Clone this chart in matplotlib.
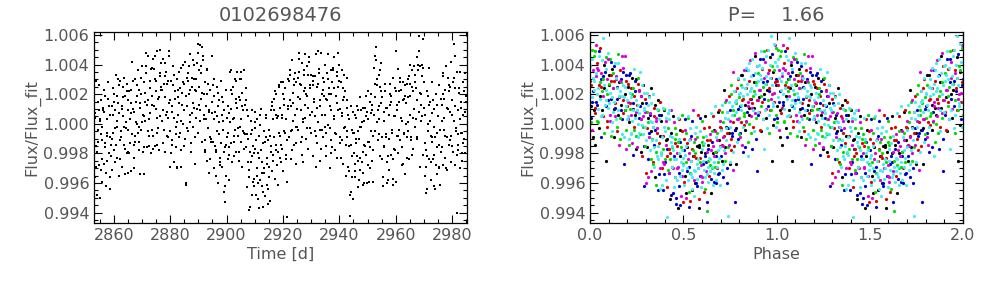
import numpy as np
import matplotlib
matplotlib.use("Agg")
import matplotlib.pyplot as plt
from matplotlib.ticker import MultipleLocator, FormatStrFormatter

# ---- light curve (left panel): time in days, flux offset in parts per thousand
time_d = [
    2853.1, 2853.3, 2853.6, 2853.8, 2854.1, 2854.4, 2854.6, 2854.9, 2855.1, 2855.4, 2855.6, 2855.9,
    2856.0, 2856.2, 2856.5, 2856.7, 2857.0, 2857.2, 2857.5, 2857.7, 2858.0, 2858.3, 2858.5, 2858.8,
    2859.1, 2859.4, 2859.6, 2859.9, 2860.1, 2860.3, 2860.6, 2860.8, 2861.1, 2861.3, 2861.6, 2861.8,
    2862.1, 2862.3, 2862.6, 2862.8, 2863.1, 2863.4, 2863.6, 2863.9, 2864.1, 2864.4, 2864.6, 2864.9,
    2865.0, 2865.2, 2865.5, 2865.7, 2866.0, 2866.2, 2866.5, 2866.7, 2867.0, 2867.3, 2867.5, 2867.8,
    2868.1, 2868.4, 2868.6, 2868.9, 2869.1, 2869.3, 2869.6, 2869.8, 2870.1, 2870.3, 2870.6, 2870.8,
    2871.1, 2871.3, 2871.6, 2871.8, 2872.1, 2872.4, 2872.6, 2872.9, 2873.1, 2873.4, 2873.6, 2873.9,
    2874.0, 2874.2, 2874.5, 2874.7, 2875.0, 2875.2, 2875.5, 2875.7, 2876.0, 2876.3, 2876.5, 2876.8,
    2877.1, 2877.4, 2877.6, 2877.9, 2878.1, 2878.3, 2878.6, 2878.8, 2879.1, 2879.3, 2879.6, 2879.8,
    2880.1, 2880.3, 2880.6, 2880.8, 2881.1, 2881.4, 2881.6, 2881.9, 2882.1, 2882.4, 2882.6, 2882.9,
    2883.0, 2883.2, 2883.5, 2883.7, 2884.0, 2884.2, 2884.5, 2884.7, 2885.0, 2885.3, 2885.5, 2885.8,
    2886.1, 2886.4, 2886.6, 2886.9, 2887.1, 2887.3, 2887.6, 2887.8, 2888.1, 2888.3, 2888.6, 2888.8,
    2889.1, 2889.3, 2889.6, 2889.8, 2890.1, 2890.4, 2890.6, 2890.9, 2891.1, 2891.4, 2891.6, 2891.9,
    2892.0, 2892.2, 2892.5, 2892.7, 2893.0, 2893.2, 2893.5, 2893.7, 2894.0, 2894.3, 2894.5, 2894.8,
    2895.1, 2895.4, 2895.6, 2895.9, 2896.1, 2896.3, 2896.6, 2896.8, 2897.1, 2897.3, 2897.6, 2897.8,
    2898.1, 2898.3, 2898.6, 2898.8, 2899.1, 2899.4, 2899.6, 2899.9, 2900.1, 2900.4, 2900.6, 2900.9,
    2901.0, 2901.2, 2901.5, 2901.7, 2902.0, 2902.2, 2902.5, 2902.7, 2903.0, 2903.3, 2903.5, 2903.8,
    2904.1, 2904.4, 2904.6, 2904.9, 2905.1, 2905.3, 2905.6, 2905.8, 2906.1, 2906.3, 2906.6, 2906.8,
    2907.1, 2907.3, 2907.6, 2907.8, 2908.1, 2908.4, 2908.6, 2908.9, 2909.1, 2909.4, 2909.6, 2909.9,
    2910.0, 2910.2, 2910.5, 2910.7, 2911.0, 2911.2, 2911.5, 2911.7, 2912.0, 2912.3, 2912.5, 2912.8,
    2913.1, 2913.4, 2913.6, 2913.9, 2914.1, 2914.3, 2914.6, 2914.8, 2915.1, 2915.3, 2915.6, 2915.8,
    2916.1, 2916.3, 2916.6, 2916.8, 2917.1, 2917.4, 2917.6, 2917.9, 2918.1, 2918.4, 2918.6, 2918.9,
    2919.0, 2919.2, 2919.5, 2919.7, 2920.0, 2920.2, 2920.5, 2920.7, 2921.0, 2921.3, 2921.5, 2921.8,
    2922.1, 2922.4, 2922.6, 2922.9, 2923.1, 2923.3, 2923.6, 2923.8, 2924.1, 2924.3, 2924.6, 2924.8,
    2925.1, 2925.3, 2925.6, 2925.8, 2926.1, 2926.4, 2926.6, 2926.9, 2927.1, 2927.4, 2927.6, 2927.9,
    2928.0, 2928.2, 2928.5, 2928.7, 2929.0, 2929.2, 2929.5, 2929.7, 2930.0, 2930.3, 2930.5, 2930.8,
    2931.1, 2931.4, 2931.6, 2931.9, 2932.1, 2932.3, 2932.6, 2932.8, 2933.1, 2933.3, 2933.6, 2933.8,
    2934.1, 2934.3, 2934.6, 2934.8, 2935.1, 2935.4, 2935.6, 2935.9, 2936.1, 2936.4, 2936.6, 2936.9,
    2937.0, 2937.2, 2937.5, 2937.7, 2938.0, 2938.2, 2938.5, 2938.7, 2939.0, 2939.3, 2939.5, 2939.8,
    2940.1, 2940.4, 2940.6, 2940.9, 2941.1, 2941.3, 2941.6, 2941.8, 2942.1, 2942.3, 2942.6, 2942.8,
    2943.1, 2943.3, 2943.6, 2943.8, 2944.1, 2944.4, 2944.6, 2944.9, 2945.1, 2945.4, 2945.6, 2945.9,
    2946.0, 2946.2, 2946.5, 2946.7, 2947.0, 2947.2, 2947.5, 2947.7, 2948.0, 2948.3, 2948.5, 2948.8,
    2949.1, 2949.4, 2949.6, 2949.9, 2950.1, 2950.3, 2950.6, 2950.8, 2951.1, 2951.3, 2951.6, 2951.8,
    2952.1, 2952.3, 2952.6, 2952.8, 2953.1, 2953.4, 2953.6, 2953.9, 2954.1, 2954.4, 2954.6, 2954.9,
    2955.0, 2955.2, 2955.5, 2955.7, 2956.0, 2956.2, 2956.5, 2956.7, 2957.0, 2957.3, 2957.5, 2957.8,
    2958.1, 2958.4, 2958.6, 2958.9, 2959.1, 2959.3, 2959.6, 2959.8, 2960.1, 2960.3, 2960.6, 2960.8,
    2961.1, 2961.3, 2961.6, 2961.8, 2962.1, 2962.4, 2962.6, 2962.9, 2963.1, 2963.4, 2963.6, 2963.9,
    2964.0, 2964.2, 2964.5, 2964.7, 2965.0, 2965.2, 2965.5, 2965.7, 2966.0, 2966.3, 2966.5, 2966.8,
    2967.1, 2967.4, 2967.6, 2967.9, 2968.1, 2968.3, 2968.6, 2968.8, 2969.1, 2969.3, 2969.6, 2969.8,
    2970.1, 2970.3, 2970.6, 2970.8, 2971.1, 2971.4, 2971.6, 2971.9, 2972.1, 2972.4, 2972.6, 2972.9,
    2973.0, 2973.2, 2973.5, 2973.7, 2974.0, 2974.2, 2974.5, 2974.7, 2975.0, 2975.3, 2975.5, 2975.8,
    2976.1, 2976.4, 2976.6, 2976.9, 2977.1, 2977.3, 2977.6, 2977.8, 2978.1, 2978.3, 2978.6, 2978.8,
    2979.1, 2979.3, 2979.6, 2979.8, 2980.1, 2980.4, 2980.6, 2980.9, 2981.1, 2981.4, 2981.6, 2981.9,
    2982.0, 2982.2, 2982.5, 2982.7, 2983.0, 2983.2, 2983.5, 2983.7, 2984.0, 2984.3, 2984.5, 2984.8,
    # in-between exposures
    2853.2, 2853.45, 2853.7, 2854.0, 2854.25, 2854.5, 2854.75, 2855.0, 2855.2, 2855.45, 2855.7, 2855.95,
    2856.25, 2856.5, 2856.8, 2856.95, 2857.2, 2857.45, 2857.65, 2857.95, 2858.25, 2858.55, 2858.75, 2858.9,
    2859.2, 2859.45, 2859.7, 2860.0, 2860.25, 2860.5, 2860.75, 2861.0, 2861.2, 2861.45, 2861.7, 2861.95,
    2862.25, 2862.5, 2862.8, 2862.95, 2863.2, 2863.45, 2863.65, 2863.95, 2864.25, 2864.55, 2864.75, 2864.9,
    2865.2, 2865.45, 2865.7, 2866.0, 2866.25, 2866.5, 2866.75, 2867.0, 2867.2, 2867.45, 2867.7, 2867.95,
    2868.25, 2868.5, 2868.8, 2868.95, 2869.2, 2869.45, 2869.65, 2869.95, 2870.25, 2870.55, 2870.75, 2870.9,
    2871.2, 2871.45, 2871.7, 2872.0, 2872.25, 2872.5, 2872.75, 2873.0, 2873.2, 2873.45, 2873.7, 2873.95,
    2874.25, 2874.5, 2874.8, 2874.95, 2875.2, 2875.45, 2875.65, 2875.95, 2876.25, 2876.55, 2876.75, 2876.9,
    2877.2, 2877.45, 2877.7, 2878.0, 2878.25, 2878.5, 2878.75, 2879.0, 2879.2, 2879.45, 2879.7, 2879.95,
    2880.25, 2880.5, 2880.8, 2880.95, 2881.2, 2881.45, 2881.65, 2881.95, 2882.25, 2882.55, 2882.75, 2882.9,
    2883.2, 2883.45, 2883.7, 2884.0, 2884.25, 2884.5, 2884.75, 2885.0, 2885.2, 2885.45, 2885.7, 2885.95,
    2886.25, 2886.5, 2886.8, 2886.95, 2887.2, 2887.45, 2887.65, 2887.95, 2888.25, 2888.55, 2888.75, 2888.9,
    2889.2, 2889.45, 2889.7, 2890.0, 2890.25, 2890.5, 2890.75, 2891.0, 2891.2, 2891.45, 2891.7, 2891.95,
    2892.25, 2892.5, 2892.8, 2892.95, 2893.2, 2893.45, 2893.65, 2893.95, 2894.25, 2894.55, 2894.75, 2894.9,
    2895.2, 2895.45, 2895.7, 2896.0, 2896.25, 2896.5, 2896.75, 2897.0, 2897.2, 2897.45, 2897.7, 2897.95,
    2898.25, 2898.5, 2898.8, 2898.95, 2899.2, 2899.45, 2899.65, 2899.95, 2900.25, 2900.55, 2900.75, 2900.9,
    2901.2, 2901.45, 2901.7, 2902.0, 2902.25, 2902.5, 2902.75, 2903.0, 2903.2, 2903.45, 2903.7, 2903.95,
    2904.25, 2904.5, 2904.8, 2904.95, 2905.2, 2905.45, 2905.65, 2905.95, 2906.25, 2906.55, 2906.75, 2906.9,
    2907.2, 2907.45, 2907.7, 2908.0, 2908.25, 2908.5, 2908.75, 2909.0, 2909.2, 2909.45, 2909.7, 2909.95,
    2910.25, 2910.5, 2910.8, 2910.95, 2911.2, 2911.45, 2911.65, 2911.95, 2912.25, 2912.55, 2912.75, 2912.9,
    2913.2, 2913.45, 2913.7, 2914.0, 2914.25, 2914.5, 2914.75, 2915.0, 2915.2, 2915.45, 2915.7, 2915.95,
    2916.25, 2916.5, 2916.8, 2916.95, 2917.2, 2917.45, 2917.65, 2917.95, 2918.25, 2918.55, 2918.75, 2918.9,
    2919.2, 2919.45, 2919.7, 2920.0, 2920.25, 2920.5, 2920.75, 2921.0, 2921.2, 2921.45, 2921.7, 2921.95,
    2922.25, 2922.5, 2922.8, 2922.95, 2923.2, 2923.45, 2923.65, 2923.95, 2924.25, 2924.55, 2924.75, 2924.9,
    2925.2, 2925.45, 2925.7, 2926.0, 2926.25, 2926.5, 2926.75, 2927.0, 2927.2, 2927.45, 2927.7, 2927.95,
    2928.25, 2928.5, 2928.8, 2928.95, 2929.2, 2929.45, 2929.65, 2929.95, 2930.25, 2930.55, 2930.75, 2930.9,
    2931.2, 2931.45, 2931.7, 2932.0, 2932.25, 2932.5, 2932.75, 2933.0, 2933.2, 2933.45, 2933.7, 2933.95,
    2934.25, 2934.5, 2934.8, 2934.95, 2935.2, 2935.45, 2935.65, 2935.95, 2936.25, 2936.55, 2936.75, 2936.9,
    2937.2, 2937.45, 2937.7, 2938.0, 2938.25, 2938.5, 2938.75, 2939.0, 2939.2, 2939.45, 2939.7, 2939.95,
    2940.25, 2940.5, 2940.8, 2940.95, 2941.2, 2941.45, 2941.65, 2941.95, 2942.25, 2942.55, 2942.75, 2942.9,
    2943.2, 2943.45, 2943.7, 2944.0, 2944.25, 2944.5, 2944.75, 2945.0, 2945.2, 2945.45, 2945.7, 2945.95,
    2946.25, 2946.5, 2946.8, 2946.95, 2947.2, 2947.45, 2947.65, 2947.95, 2948.25, 2948.55, 2948.75, 2948.9,
    2949.2, 2949.45, 2949.7, 2950.0, 2950.25, 2950.5, 2950.75, 2951.0, 2951.2, 2951.45, 2951.7, 2951.95,
    2952.25, 2952.5, 2952.8, 2952.95, 2953.2, 2953.45, 2953.65, 2953.95, 2954.25, 2954.55, 2954.75, 2954.9,
    2955.2, 2955.45, 2955.7, 2956.0, 2956.25, 2956.5, 2956.75, 2957.0, 2957.2, 2957.45, 2957.7, 2957.95,
    2958.25, 2958.5, 2958.8, 2958.95, 2959.2, 2959.45, 2959.65, 2959.95, 2960.25, 2960.55, 2960.75, 2960.9,
    2961.2, 2961.45, 2961.7, 2962.0, 2962.25, 2962.5, 2962.75, 2963.0, 2963.2, 2963.45, 2963.7, 2963.95,
    2964.25, 2964.5, 2964.8, 2964.95, 2965.2, 2965.45, 2965.65, 2965.95, 2966.25, 2966.55, 2966.75, 2966.9,
    2967.2, 2967.45, 2967.7, 2968.0, 2968.25, 2968.5, 2968.75, 2969.0, 2969.2, 2969.45, 2969.7, 2969.95,
    2970.25, 2970.5, 2970.8, 2970.95, 2971.2, 2971.45, 2971.65, 2971.95, 2972.25, 2972.55, 2972.75, 2972.9,
    2973.2, 2973.45, 2973.7, 2974.0, 2974.25, 2974.5, 2974.75, 2975.0, 2975.2, 2975.45, 2975.7, 2975.95,
    2976.25, 2976.5, 2976.8, 2976.95, 2977.2, 2977.45, 2977.65, 2977.95, 2978.25, 2978.55, 2978.75, 2978.9,
    2979.2, 2979.45, 2979.7, 2980.0, 2980.25, 2980.5, 2980.75, 2981.0, 2981.2, 2981.45, 2981.7, 2981.95,
    2982.25, 2982.5, 2982.8, 2982.95, 2983.2, 2983.45, 2983.65, 2983.95, 2984.25, 2984.55, 2984.75, 2984.9,
]
flux_ppt = [
    1.8, 0.4, -1.5, -2.9, -4.8, -1.2, 0.9, 2.6, 0.3, -0.7, -3.1, -2.4,
    -0.2, 1.1, 2.3, 0.8, -1.6, -3.3, -2.5, -0.6, 1.7, 1.2, -0.9, -4.4,
    -2.2, -1.0, 0.6, 2.4, 1.5, -0.3, -2.6, -1.4, 0.2, 1.9, 3.0, 0.7,
    -1.1, -2.4, -0.5, 1.2, 2.5, 1.8, -0.2, -1.7, -3.4, 0.1, 2.2, 0.9,
    1.6, -0.4, -2.0, -1.3, 0.7, 2.3, 4.2, 1.0, -1.4, -3.0, -0.8, 1.5,
    2.6, 1.9, -0.6, -1.8, -0.2, 1.4, 3.1, 2.0, 0.1, -1.9, -3.4, 0.5,
    2.1, 3.9, 4.8, 1.3, -0.5, -1.5, 0.3, 2.4, 3.7, 1.9, -0.4, -1.7,
    -0.8, 1.2, 3.0, 4.6, 2.2, 0.4, -1.4, -0.3, 1.8, 3.4, 5.0, 2.5,
    0.2, -1.3, 0.9, 2.7, 4.1, 3.2, 0.6, -0.8, 0.4, 2.9, 4.9, 1.6,
    -0.5, -2.0, -1.1, 0.8, 2.6, 3.3, 1.7, -0.2, -1.6, -2.9, 0.1, 2.3,
    3.5, 1.4, -0.6, -1.8, 0.2, 2.1, 4.0, 2.8, 0.9, -1.0, -4.1, -0.3,
    1.2, 2.9, 3.9, 2.3, 0.1, -1.3, 0.7, 2.5, 4.3, 3.0, 1.1, -0.9,
    0.4, 2.2, 4.1, 5.4, 3.6, 1.3, 0.2, 1.7, 3.9, 5.2, 4.6, 2.0,
    0.6, -1.1, -1.9, 0.3, 2.0, 3.6, 2.7, 0.8, -0.9, -2.4, -1.2, 0.7,
    2.6, 1.9, 0.3, -1.5, -3.5, -1.8, 0.5, 2.1, 1.2, -0.7, -2.3, -2.8,
    -1.3, 0.6, 1.5, 0.2, -1.9, -5.3, -4.2, -1.4, 0.4, 1.2, -0.6, -2.1,
    -1.6, 0.1, 2.3, 3.6, 2.0, 0.3, -1.2, -2.2, -0.4, 1.7, 2.9, 1.1,
    -0.8, -1.9, -0.2, 1.6, 3.0, 3.5, 1.2, -0.5, -1.7, -0.6, 1.3, 2.4,
    0.9, -0.7, -2.6, -5.8, -3.6, -1.9, 0.2, -0.4, -2.2, -3.9, -4.2, -2.0,
    -0.3, 0.8, -1.1, -3.5, -5.1, -4.0, -2.3, -0.1, 0.6, -1.8, -3.3, -4.6,
    -5.6, -3.0, -1.2, 0.4, -0.9, -2.7, -4.4, -5.4, -2.9, -0.8, 0.9, -1.5,
    -3.2, -2.1, 0.3, 1.7, 2.2, 0.6, -1.4, -2.8, -1.9, 0.5, 2.5, 1.1,
    -0.8, -2.6, -1.7, 0.4, 2.0, 2.8, 1.3, -0.6, -2.4, -6.3, -1.1, 1.0,
    2.9, 3.3, 1.6, -0.5, -1.8, -0.4, 1.4, 3.0, 2.6, 0.6, -1.3, -2.7,
    -0.2, 1.8, 3.5, 4.8, 2.7, 0.9, -0.9, -2.1, 0.1, 2.2, 3.6, 2.4,
    0.4, -1.0, -0.3, 1.9, 3.3, 4.5, 2.4, 0.6, -0.6, 0.8, 2.6, 3.2,
    1.5, -0.5, -2.9, -0.8, 1.1, 2.7, 4.9, 3.4, 1.2, -0.4, -1.7, 0.6,
    2.3, 3.1, 1.9, -0.2, -1.5, -0.6, 1.6, 3.0, 4.7, 2.0, -0.3, -2.0,
    -1.1, 0.9, 2.8, 3.8, 2.4, 0.5, -1.8, -0.7, 1.4, 3.5, 4.8, 2.9,
    1.0, -0.9, -2.3, -1.1, 0.7, 2.4, 3.3, 1.8, -0.2, -1.4, -0.5, 1.6,
    0.6, -1.5, -3.2, -6.2, -4.6, -2.2, -0.4, 0.8, -0.6, -2.7, -3.6, -1.3,
    0.4, 1.2, -0.5, -2.5, -3.8, -2.3, -0.2, 0.9, 0.1, -1.9, -3.3, -4.0,
    -1.5, 0.5, 1.9, 0.8, -1.2, -2.8, -3.9, -1.6, 0.7, 2.0, 1.3, -0.8,
    -1.8, 0.6, 2.7, 4.6, 5.2, 3.0, 0.9, -0.7, 0.3, 2.5, 3.6, 1.4,
    -0.9, -2.4, -4.2, -1.5, 0.8, 2.2, 1.1, -0.7, -2.6, -3.8, -1.0, 1.3,
    2.7, 1.5, -0.6, -2.4, -4.1, -1.7, 0.5, 2.4, 4.9, 1.3, -0.8, -2.0,
    -0.4, 1.5, 2.8, 2.3, 0.2, -1.6, -2.7, -0.6, 1.7, 2.6, 1.4, -0.9,
    -2.3, -0.5, 1.8, 3.2, 2.7, 0.6, -1.1, -2.1, 0.4, 2.2, 3.9, 2.8,
    0.3, -0.9, 1.6, 4.0, 5.9, 4.9, 2.1, 0.2, 1.3, 3.2, 5.7, 3.8,
    1.1, -1.3, -2.9, -4.7, -2.2, 0.0, 1.9, 3.8, 1.5, -0.8, -2.6, -0.9,
    0.7, 1.6, -0.2, -2.1, -4.4, -2.8, -0.6, 1.3, 0.5, -1.4, -3.0, -4.1,
    -1.9, 0.2, 2.0, 3.4, 1.7, -0.4, -2.3, -3.0, -0.9, 1.1, 3.1, 2.2,
    0.8, -1.1, -2.6, -1.5, 0.6, 2.8, 5.4, 4.6, 1.2, -0.5, -2.1, -6.0,
    -0.7, 0.9, 2.4, 3.5, 1.1, -0.6, -2.0, -1.3, 0.6, 2.2, 3.4, 1.5,
    # in-between exposures
    -3.6, 0.7, 2.9, -1.9, -0.4, 1.5, -2.8, -5.0, 0.2, 1.6, -1.1, -3.9,
    0.9, -2.7, -1.3, 1.9, -4.2, -0.8, 0.3, 2.8, -2.0, -3.6, 0.6, -1.4,
    1.2, -3.1, -0.6, 2.0, -1.8, 0.9, 3.3, -2.3, -0.2, 1.4, -3.5, 2.6,
    2.9, -0.9, 1.0, -2.9, 0.5, 3.1, -1.4, 1.9, -0.3, -2.0, 2.7, -3.3,
    -1.9, 2.2, 0.3, -3.2, 1.4, -0.7, 2.9, -2.3, 0.8, 3.0, -1.2, 0.1,
    0.0, 3.6, -1.2, 2.3, -3.4, 1.1, -0.4, 3.9, 0.6, -1.6, 2.8, 1.5,
    0.2, 3.4, -1.6, 1.6, 4.6, -0.8, 2.9, 0.7, -2.0, 3.8, 1.3, 4.4,
    3.7, -1.5, 1.0, 2.9, -0.6, 4.9, 1.7, -1.8, 3.2, 0.5, 2.3, 4.1,
    2.3, 4.4, -0.4, 1.8, -1.9, 3.5, 0.8, 2.7, -0.9, 4.6, 1.4, -2.9,
    2.9, -1.4, 1.2, 3.9, -2.6, 0.4, 2.2, -0.7, 3.0, -3.0, 1.8, 0.6,
    -0.9, 2.4, 3.8, -2.9, 1.3, 0.0, 2.7, -1.5, 4.2, -4.0, 1.9, 3.1,
    3.4, -0.5, 2.0, 4.7, 0.6, -1.9, 3.1, 1.4, -0.2, 4.0, 2.3, -2.7,
    3.0, 1.0, 4.8, -0.6, 2.5, 5.3, 0.9, 3.4, -1.2, 2.1, 4.3, 0.3,
    -1.8, 2.8, 1.2, -2.5, 3.7, -0.3, 0.9, -3.3, 2.3, -1.0, 1.5, 4.6,
    -1.2, 3.0, -3.0, 0.8, -1.9, 2.5, -0.5, -4.0, 1.6, 0.1, -2.6, 2.9,
    1.8, -2.9, -0.4, -4.6, 0.9, -1.6, -3.5, 2.3, -0.9, -2.4, 0.7, -3.8,
    3.5, -1.3, 1.0, -2.6, 2.5, 0.4, -0.8, 3.0, -1.9, 1.4, 3.5, -0.3,
    1.8, -2.5, 3.0, 0.3, -1.2, 2.1, -2.9, 0.9, 3.6, -0.7, 1.6, -1.6,
    -4.3, 0.5, -1.0, -3.1, -5.6, -0.7, -2.6, 0.9, -4.8, -1.5, -3.7, 0.1,
    -1.7, -4.8, 0.3, -3.0, -2.0, -5.7, -0.8, -3.8, 1.0, -2.6, -4.2, -1.3,
    -3.3, -0.5, -4.9, 0.6, -2.3, -4.1, -1.1, -3.6, -0.4, -5.2, -1.9, 1.2,
    1.5, -2.5, -0.9, 0.9, -3.7, 2.0, -1.8, 0.4, -4.1, 2.6, -0.6, -2.3,
    2.8, -1.4, 0.6, -3.2, 1.7, -0.5, 2.4, -2.1, 0.3, -3.9, 1.2, 3.0,
    -0.9, 3.6, 1.2, -2.4, 4.3, 0.2, 2.1, -1.4, 3.4, -0.2, 2.8, 1.0,
    3.1, -0.4, 4.4, 1.7, -1.2, 2.6, 4.1, 0.3, -2.6, 3.3, 1.3, 4.7,
    2.0, 3.9, -1.7, 1.1, 4.2, 2.6, -0.3, 3.3, 0.8, -2.2, 2.9, 1.7,
    3.2, 0.5, 4.7, -1.3, 2.5, 0.1, 3.7, -2.5, 1.6, 4.8, -0.4, 2.0,
    -0.9, 2.8, 0.6, 4.0, -2.2, 1.7, 3.4, -0.1, 2.4, -3.0, 1.2, 3.6,
    2.0, -1.6, 3.6, 0.3, 4.5, -0.6, 1.9, 3.2, -2.3, 2.5, 0.9, 4.0,
    -1.3, 2.8, 0.5, 3.6, -2.7, 1.6, -0.3, 2.2, -3.5, 1.1, 3.1, -0.9,
    -2.9, 0.3, -4.8, -1.4, 1.2, -3.6, -0.6, -5.1, -2.0, 0.6, -3.2, -1.0,
    -2.2, 0.9, -4.3, -1.0, 1.8, -3.1, -0.2, -2.6, 1.1, -4.1, -1.4, 0.2,
    1.1, -2.1, -4.0, 0.3, 2.2, -1.2, -3.0, 1.5, -0.5, -2.5, 0.9, -3.9,
    3.8, -0.5, 1.8, 4.3, 0.1, 2.6, -1.1, 3.3, 1.2, -2.2, 2.2, 4.1,
    1.8, -3.6, 0.2, -1.6, 2.7, -0.9, -4.0, 1.1, -2.2, 0.6, -3.1, 2.0,
    -2.1, 1.9, -0.4, -3.7, 3.1, 0.5, -1.8, 2.2, -3.9, 0.9, -0.8, 3.7,
    2.2, -1.1, 3.1, 0.4, -2.8, 1.6, 2.8, -0.7, -3.4, 1.9, 0.0, 2.7,
    3.0, 0.1, -2.4, 1.9, 4.0, -0.9, 2.5, 3.6, -1.7, 1.0, 3.3, -0.2,
    2.4, 4.5, -1.0, 3.6, 0.8, 3.9, -2.9, 2.0, 4.0, 0.5, -2.1, 2.8,
    -3.5, 0.6, -1.8, 2.2, -4.4, -0.5, 1.3, -2.4, 0.2, -3.8, 2.8, -1.2,
    -2.4, 1.0, -4.2, -0.9, 2.0, -1.6, -3.4, 0.5, 2.6, -2.9, -0.4, 1.7,
    1.3, -1.6, 3.2, -2.8, 0.4, 2.3, -0.8, 3.9, -3.1, 1.0, -1.4, 2.6,
    2.5, -0.8, 4.2, 1.6, -1.9, 3.1, 0.2, -2.8, 2.4, -0.3, 3.5, -1.4,
    -1.8, 2.1, 0.3, -3.0, 1.5, -0.6, -2.5, 2.8, -1.0, 0.8, -2.0, 1.9,
]

# ---- folded curve (right panel), P = 1.66 d; drawn for phase 0-1 and again 1-2
phase = [
    .001, .003, .004, .006, .008, .010, .012, .015, .017, .019,
    .021, .023, .026, .028, .030, .032, .034, .036, .038, .039,
    .041, .043, .045, .047, .050, .052, .054, .056, .058, .059,
    .061, .063, .065, .067, .069, .071, .073, .075, .077, .079,
    .081, .083, .084, .086, .088, .090, .092, .095, .097, .099,
    .101, .103, .105, .108, .110, .112, .114, .116, .118, .119,
    .121, .123, .125, .127, .129, .131, .133, .135, .137, .139,
    .141, .143, .145, .147, .149, .151, .153, .155, .157, .159,
    .161, .163, .165, .167, .169, .171, .173, .175, .177, .179,
    .181, .183, .185, .187, .189, .191, .193, .195, .197, .199,
    .201, .203, .205, .207, .209, .211, .213, .215, .217, .219,
    .221, .223, .225, .227, .229, .231, .233, .235, .237, .239,
    .241, .243, .245, .247, .249, .251, .253, .255, .257, .259,
    .261, .263, .265, .267, .269, .271, .273, .275, .277, .279,
    .281, .283, .285, .287, .289, .291, .293, .295, .297, .299,
    .301, .303, .305, .307, .309, .311, .313, .315, .317, .319,
    .321, .323, .325, .327, .329, .331, .333, .335, .337, .339,
    .341, .343, .345, .347, .349, .351, .353, .355, .357, .359,
    .361, .363, .365, .367, .369, .371, .373, .375, .377, .379,
    .381, .383, .385, .387, .389, .391, .393, .395, .397, .399,
    .401, .403, .405, .407, .409, .411, .413, .415, .417, .419,
    .421, .423, .425, .427, .429, .431, .433, .435, .437, .439,
    .441, .443, .445, .447, .449, .451, .453, .455, .457, .459,
    .461, .463, .465, .467, .469, .471, .473, .475, .477, .479,
    .481, .483, .485, .487, .489, .491, .493, .495, .497, .499,
    .501, .503, .505, .507, .509, .511, .513, .515, .517, .519,
    .521, .523, .525, .527, .529, .531, .533, .535, .537, .539,
    .541, .543, .545, .547, .549, .551, .553, .555, .557, .559,
    .561, .563, .565, .567, .569, .571, .573, .575, .577, .579,
    .581, .583, .585, .587, .589, .591, .593, .595, .597, .599,
    .601, .603, .605, .607, .609, .611, .613, .615, .617, .619,
    .621, .623, .625, .627, .629, .631, .633, .635, .637, .639,
    .641, .643, .645, .647, .649, .651, .653, .655, .657, .659,
    .661, .663, .665, .667, .669, .671, .673, .675, .677, .679,
    .681, .683, .685, .687, .689, .691, .693, .695, .697, .699,
    .701, .703, .705, .707, .709, .711, .713, .715, .717, .719,
    .721, .723, .725, .727, .729, .731, .733, .735, .737, .739,
    .741, .743, .745, .747, .749, .751, .753, .755, .757, .759,
    .761, .763, .765, .767, .769, .771, .773, .775, .777, .779,
    .781, .783, .785, .787, .789, .791, .793, .795, .797, .799,
    .801, .803, .805, .807, .809, .811, .813, .815, .817, .819,
    .821, .823, .825, .827, .829, .831, .833, .835, .837, .839,
    .841, .843, .845, .847, .849, .851, .853, .855, .857, .859,
    .861, .863, .865, .867, .869, .871, .873, .875, .877, .879,
    .881, .883, .885, .887, .889, .891, .893, .895, .897, .899,
    .901, .903, .905, .907, .909, .911, .913, .915, .917, .919,
    .921, .923, .925, .927, .929, .931, .933, .935, .937, .939,
    .941, .943, .945, .947, .949, .951, .953, .955, .957, .959,
    .961, .963, .965, .967, .969, .971, .973, .975, .977, .979,
    .981, .983, .985, .987, .989, .991, .993, .995, .997, .999,
    .002, .005, .009, .011, .014, .018, .022, .025, .029, .031,
    .035, .037, .042, .046, .049, .053, .057, .060, .063, .066,
    .068, .072, .074, .078, .083, .085, .089, .093, .096, .098,
    .102, .106, .109, .113, .115, .120, .124, .126, .129, .132,
    .134, .138, .142, .144, .148, .152, .156, .159, .162, .165,
    .168, .172, .176, .178, .182, .186, .188, .192, .195, .198,
    .203, .206, .208, .212, .216, .219, .222, .226, .229, .232,
    .234, .238, .241, .244, .248, .251, .255, .259, .262, .265,
    .268, .271, .275, .278, .282, .285, .289, .292, .296, .299,
    .302, .305, .309, .312, .316, .318, .322, .325, .328, .332,
    .335, .338, .342, .345, .349, .352, .356, .359, .362, .366,
    .368, .372, .375, .379, .382, .385, .389, .392, .395, .398,
    .402, .405, .409, .412, .415, .419, .422, .425, .428, .432,
    .435, .438, .441, .445, .448, .452, .455, .458, .462, .465,
    .468, .472, .475, .478, .482, .485, .488, .492, .495, .498,
    .502, .505, .508, .512, .515, .518, .522, .525, .528, .532,
    .535, .538, .542, .545, .548, .552, .555, .558, .562, .565,
    .568, .571, .575, .578, .582, .585, .588, .592, .595, .598,
    .602, .605, .608, .612, .615, .618, .622, .625, .628, .632,
    .635, .638, .642, .645, .648, .652, .655, .658, .662, .665,
    .668, .672, .675, .678, .682, .685, .688, .692, .695, .698,
    .702, .705, .708, .712, .715, .718, .722, .725, .728, .732,
    .735, .738, .742, .745, .748, .752, .755, .758, .762, .765,
    .768, .772, .775, .778, .782, .785, .788, .792, .795, .798,
    .802, .805, .808, .812, .815, .818, .822, .825, .828, .832,
    .835, .838, .842, .845, .848, .852, .855, .858, .862, .865,
    .868, .872, .875, .878, .882, .885, .888, .892, .895, .898,
    .902, .905, .908, .912, .915, .918, .922, .925, .928, .932,
    .935, .938, .942, .945, .948, .952, .955, .958, .962, .965,
    .968, .972, .975, .978, .982, .985, .988, .992, .995, .998,
]
phase_flux_ppt = [
    3.9, 1.2, 0.4, 2.6, 5.0, 1.8, -0.4, 3.1, 2.2, 0.9,
    4.6, 2.9, 0.7, -1.4, 3.4, 1.5, 5.3, 2.0, 0.2, 4.1,
    1.0, 3.6, 2.4, 4.9, -0.3, 2.8, 1.7, 5.1, 0.5, 3.0,
    2.5, 4.3, 0.9, 5.8, 1.9, 3.2, -0.6, 2.6, 4.0, 1.3,
    3.5, -2.5, 1.6, 4.5, 2.3, 0.2, 3.0, 1.1, 4.8, 2.7,
    1.4, 3.3, 0.6, 2.1, 4.2, -0.8, 2.9, 1.8, 0.1, 3.7,
    2.4, 0.8, 3.4, 1.5, -0.9, 2.9, 4.1, 1.1, 0.3, 3.0,
    3.1, 1.7, -0.5, 2.4, 4.7, 0.9, 2.8, -1.4, 1.9, 3.6,
    0.4, 2.2, 3.0, 1.3, -0.7, 4.6, 1.9, 0.7, 2.6, 3.5,
    1.8, -2.7, 0.9, 2.5, 4.6, 1.2, -0.4, 2.9, 0.3, 1.6,
    2.7, 0.5, 1.5, -1.0, 3.3, 0.1, 2.1, 1.0, -0.6, 2.4,
    1.8, 3.1, 0.2, -1.3, 2.4, 0.9, 1.4, 3.7, -0.2, 0.6,
    2.2, 0.4, -0.8, 1.6, 3.0, -1.6, 0.9, 2.7, 0.0, 1.3,
    0.7, 2.3, -0.6, 1.2, 3.5, -1.9, 0.3, 1.9, -0.1, 2.6,
    1.4, -0.7, 0.5, 2.1, -4.2, 0.9, -1.5, 1.7, -0.2, -4.0,
    -1.1, 0.8, 2.1, -0.3, 1.3, -2.4, 0.4, 1.8, -0.9, 0.2,
    0.6, -1.8, -0.5, 1.4, -3.2, 0.1, -1.0, 2.0, -2.6, -0.2,
    -1.6, 0.5, -2.9, -0.4, 1.3, -4.1, -1.1, 0.2, -2.2, 1.0,
    -0.3, -2.4, 0.9, -1.5, -3.4, 0.3, -0.8, -4.4, 1.5, -1.9,
    -2.1, 0.6, -0.9, -3.0, 1.1, -1.7, -4.5, -0.2, -2.7, 0.9,
    -0.5, -2.6, 0.4, -1.4, -3.8, -6.3, -1.0, -2.2, 0.7, -3.1,
    -1.7, 0.3, -3.3, -0.8, -2.4, -5.1, -1.2, 0.9, -2.9, -1.5,
    -0.9, -3.0, -1.8, 0.5, -4.3, -2.2, -0.3, -3.6, -1.3, -5.4,
    -2.4, -0.7, -3.8, -1.5, 0.4, -2.9, -5.7, -1.0, -3.3, -2.0,
    -1.2, -3.5, -0.4, -2.6, -4.9, -1.8, 0.6, -3.1, -5.3, -2.3,
    -2.8, -1.0, -4.1, 0.3, -2.1, -3.5, -5.0, -1.5, -0.6, -3.0,
    -1.6, -3.8, -2.4, 0.5, -4.6, -1.1, -2.9, -5.2, -0.3, -3.4,
    -2.5, -0.8, -3.6, -1.7, -4.4, 0.9, -2.2, -3.1, -1.2, -4.9,
    -1.0, -3.2, -2.0, -0.2, -4.0, -2.7, -1.5, -3.7, 0.6, -2.4,
    -3.0, -1.4, -5.7, -2.3, -0.5, -3.5, -1.9, -4.3, -2.8, 0.2,
    -1.7, -3.9, -2.5, -0.9, -3.1, -4.6, -1.3, -2.2, -3.6, 0.5,
    -2.6, -0.8, -3.4, -1.9, -5.9, -2.9, -1.4, -3.9, -0.2, -2.3,
    -3.2, -1.1, -2.4, 0.7, -3.7, -1.8, -2.9, -0.5, -4.1, -2.0,
    -1.5, -3.3, -0.4, -2.6, 1.2, -1.9, -3.8, -2.2, -0.9, -3.0,
    -2.9, -0.6, -1.8, -3.4, 0.9, -2.3, -1.1, -4.1, 0.2, -1.6,
    -0.4, -2.2, 1.3, -1.4, -3.1, 0.1, -0.9, -2.7, 2.3, -1.8,
    -1.6, 0.4, -2.5, -0.3, 1.6, -1.1, -3.0, 0.8, -0.6, -6.2,
    0.3, -1.4, 1.5, -0.6, -2.6, 0.9, -0.2, 2.0, -1.8, 0.6,
    -0.8, 1.2, 0.1, 3.5, -1.9, 0.6, 2.2, -0.4, 1.5, -5.3,
    1.6, -0.3, 0.8, 2.4, -1.2, 0.3, 3.1, 1.0, -0.7, 2.0,
    0.4, 2.1, -0.6, 1.3, 3.3, 0.9, -1.4, 2.5, 1.6, -0.2,
    1.9, -0.1, 3.0, 0.7, 2.4, -1.6, 1.3, 3.8, 0.2, 2.0,
    0.8, 2.7, 1.5, -2.2, 3.6, 1.1, 4.1, 0.0, 2.2, 1.7,
    2.4, 0.5, 3.2, 1.4, -1.7, 4.4, 1.9, 0.9, 2.8, -0.5,
    1.1, 3.4, 2.0, 4.8, 0.4, 2.6, -3.2, 1.6, 3.9, 0.8,
    2.9, 0.6, 4.0, 1.8, 3.3, -0.4, 2.3, 4.9, 1.2, 3.0,
    1.5, 3.8, 2.5, 0.3, 4.4, -1.7, 2.0, 3.1, 0.9, 2.7,
    3.2, 1.0, 4.6, 2.3, -0.3, 2.9, 5.0, 1.6, 3.6, 0.6,
    2.2, 4.0, 0.9, 3.1, 5.9, 1.7, -2.5, 2.6, 3.9, 1.2,
    1.4, 3.5, 5.4, 2.1, 0.3, 4.2, 2.8, -0.2, 5.1, 3.0,
    2.9, 0.1, 4.4, 1.5, 3.6, -0.9, 2.3, 4.9, 1.1, 3.2,
    1.3, 3.8, 0.1, 2.6, 4.6, 1.9, -0.9, 3.4, 2.2, 0.6,
    3.0, 0.5, 2.4, 4.2, 1.2, 3.7, -0.2, 2.0, 4.4, 1.6,
    2.6, 4.4, 0.2, 1.7, 3.3, -0.5, 2.4, 1.0, 3.9, 0.5,
    1.4, 3.2, -0.2, 2.5, 0.6, 4.1, 1.8, -1.0, 2.9, 0.9,
    2.8, 0.3, 1.6, 3.8, -0.9, 2.0, 0.9, 3.3, -1.7, 1.2,
    0.3, 2.5, -1.4, 1.4, 3.4, 0.6, -0.7, 2.0, 1.0, -2.1,
    1.9, -0.4, 2.9, 0.8, -1.7, 1.3, 3.1, -0.9, 0.4, 2.2,
    -0.7, 1.9, 0.3, -2.2, 2.6, -0.2, 1.1, -1.5, 0.8, -3.3,
    1.4, -1.6, 0.1, -3.6, 1.9, -0.6, 0.7, -2.4, 2.4, -1.1,
    -0.2, -2.7, 1.1, -1.4, -3.6, 0.4, -1.9, -0.6, -4.5, 1.6,
    -1.3, 0.6, -3.0, -2.0, 0.2, -4.1, -0.8, -2.6, 1.0, -3.4,
    -2.4, 0.2, -1.1, -4.3, -1.7, -0.3, -3.3, 0.9, -2.0, -4.8,
    -0.6, -2.9, -1.6, -4.7, 0.1, -2.4, -3.6, -1.0, -5.0, -2.0,
    -3.0, -1.2, -4.2, 0.3, -2.2, -5.5, -1.6, -3.5, -0.5, -2.7,
    -1.8, -3.9, -0.4, -2.6, -4.7, -1.3, -3.2, 0.4, -2.0, -5.6,
    -3.3, -1.0, -2.5, -4.5, 0.2, -1.8, -3.8, -2.2, -0.6, -4.0,
    -2.3, -4.2, -0.9, -3.0, -1.6, -5.1, -2.6, 0.4, -3.5, -1.2,
    -3.6, -1.4, -2.7, -0.3, -4.4, -2.0, -3.2, -5.3, -1.1, -2.5,
    -1.7, -3.5, -0.7, -2.8, -4.7, -1.2, -3.0, 0.5, -2.2, -3.9,
    -2.9, -0.5, -1.9, -4.0, -1.1, 0.8, -2.6, -3.3, -0.2, -1.5,
    -0.3, -2.5, 0.8, -1.5, -3.6, -0.8, 1.5, -2.0, -0.2, -4.0,
    0.8, -1.6, -0.3, 1.9, -2.7, 0.2, -1.0, 2.6, -0.6, -3.1,
    0.9, -1.5, 2.2, -0.4, 1.4, -2.7, 0.3, 3.0, -1.0, 1.8,
    1.2, -0.9, 2.6, 0.1, 3.3, -1.9, 1.7, 0.5, 3.6, -0.4,
    2.4, 0.1, 3.6, 1.2, -1.2, 2.9, 0.6, 4.3, 1.7, -0.6,
    1.1, 3.3, -0.2, 2.2, 4.6, 0.7, 2.8, -1.0, 3.9, 1.6,
    3.4, 0.8, 2.3, 4.4, -0.5, 1.9, 3.7, 0.3, 2.8, 4.9,
    1.7, 4.2, 0.4, 2.7, 5.0, 1.2, 3.4, -0.6, 2.4, 4.5,
    3.1, 0.9, 4.7, 2.0, -0.1, 3.6, 1.5, 5.3, 2.6, 0.6,
]
# colour code of each folded point (k black, r red, b blue, g green, m magenta, c cyan)
phase_color = (
    "ckbrgcmcbk" "gcrkcbmcgr" "cmcbkgcrcb" "rckcmbgckc" "bkcgcrmccg"
    "ckmcbgrcck" "mcgckrcbcm" "cbrcgckmcr" "gcbkcmcrcb" "cbkcmcgrcc"
    "rcmcbkcgcr" "ckcmgcbcrk" "bcgckmcrcc" "crcbckgmcc" "kcmcbcgrcm"
    "cgcrcbkcmc" "bckcmcgcrc" "crcbkgcmcc" "mcgcbckcrc" "ckcrcgbcmk"
    "cbcmcckrcg" "rcbcgkcmcc" "cmckcbgcrb" "cgcrcmkcbc" "bckcmcgcrc"
    "crcbckmcgc" "kcmcgcbrcc" "cbcrcmkcgc" "mcgcbckcrc" "ckkrcbkcmg"
    "cmcgcrcbck" "bccmgckcrc" "crccbmcgck" "mckccgcbcr" "cgcbrckcmc"
    "cbcrcgmckc" "kcgcmcbcrc" "cmckcbcgrc" "bcrmcgckcb" "ckcrcmcbgc"
    "gcbckcmcrc" "crcgcbkcmc" "bcmcckcgcr" "cmcrbcgckc" "kccmgcbrcc"
    "cbckcrmcgc" "rcgcbckmcc" "cmckcbcgrc" "bcrccmkcgc" "ckcmbcrcgb"
    "rgcbmkcgrm" "bmgrckbmgc" "grkmbcrgmb" "kgmbrcgkbm" "rmgbkcrgmb"
    "gbrmckgbmr" "mkgrbmcgkb" "rgbmkrgcbm" "gbmrkgcbmr" "bkgmrbmgkc"
    "mgrbkmgrbk" "rbmgkcrmgb" "gmkrbgmcrb" "krgbmcrgbm" "mgbrkbgmrg"
    "brmgkrbgmb" "gmrkbgmrck" "rbgmkrgbmg" "mgbrgkmbrg" "brmgkbgrmb"
    "gmrbmkgbrm" "rkgmbrgmkb" "mgbrkmrgbm" "grmbgkmrbg" "bmgrkbrgmk"
    "rgbmgrkmbg" "mbrgkmgbrm" "grmbkgrmbg" "bmkgrbmgrk" "rgbmkgrmbg"
)

period = 1.66
title_left = "0102698476"
title_right = "P=    %.2f" % period

text_gray = "#555555"
color_map = {"k": "#000000", "r": "#dd0000", "b": "#0000cc",
             "g": "#00dd00", "m": "#dd00dd", "c": "#44eeee"}
# drawing order of the colour groups (cyan on top)
color_order = ["k", "b", "r", "g", "m", "c"]


def style_axes(ax):
    ax.tick_params(which="both", direction="in", top=True, right=True,
                   colors="k", labelcolor=text_gray, labelsize=11.5, width=0.8)
    ax.tick_params(which="major", length=6)
    ax.tick_params(which="minor", length=3)
    ax.yaxis.set_major_locator(MultipleLocator(0.002))
    ax.yaxis.set_minor_locator(MultipleLocator(0.0005))
    ax.yaxis.set_major_formatter(FormatStrFormatter("%.3f"))
    ax.set_ylim(0.9933, 1.0062)
    ax.set_ylabel("Flux/Flux_fit", fontsize=11.5, color=text_gray, labelpad=2)
    for s in ax.spines.values():
        s.set_linewidth(0.9)


fig = plt.figure(figsize=(9.92, 2.83), dpi=100)
ax1 = fig.add_axes([0.0948, 0.212, 0.376, 0.675])
ax2 = fig.add_axes([0.5948, 0.212, 0.376, 0.675])

# left: light curve
flux = 1 + np.array(flux_ppt) / 1000.0
ax1.plot(time_d, flux, "s", color="k", ms=1.6, mew=0)
ax1.set_xlim(2853, 2985.3)
ax1.xaxis.set_major_locator(MultipleLocator(20))
ax1.xaxis.set_minor_locator(MultipleLocator(5))
ax1.set_xlabel("Time [d]", fontsize=11.5, color=text_gray, labelpad=3)
ax1.set_title(title_left, fontsize=14, color=text_gray, pad=8)
style_axes(ax1)

# right: phase folded, plotted twice (0-1 and 1-2)
ph = np.array(phase)
pf = 1 + np.array(phase_flux_ppt) / 1000.0
codes = np.array(list(phase_color))
for code in color_order:
    m = codes == code
    for shift in (0.0, 1.0):
        ax2.plot(ph[m] + shift, pf[m], "o", color=color_map[code], ms=2.3, mew=0)
ax2.set_xlim(0, 2)
ax2.xaxis.set_major_locator(MultipleLocator(0.5))
ax2.xaxis.set_minor_locator(MultipleLocator(0.1))
ax2.xaxis.set_major_formatter(FormatStrFormatter("%.1f"))
ax2.set_xlabel("Phase", fontsize=11.5, color=text_gray, labelpad=3)
ax2.set_title(title_right, fontsize=14, color=text_gray, pad=8)
style_axes(ax2)

fig.savefig("out.png", dpi=100)
